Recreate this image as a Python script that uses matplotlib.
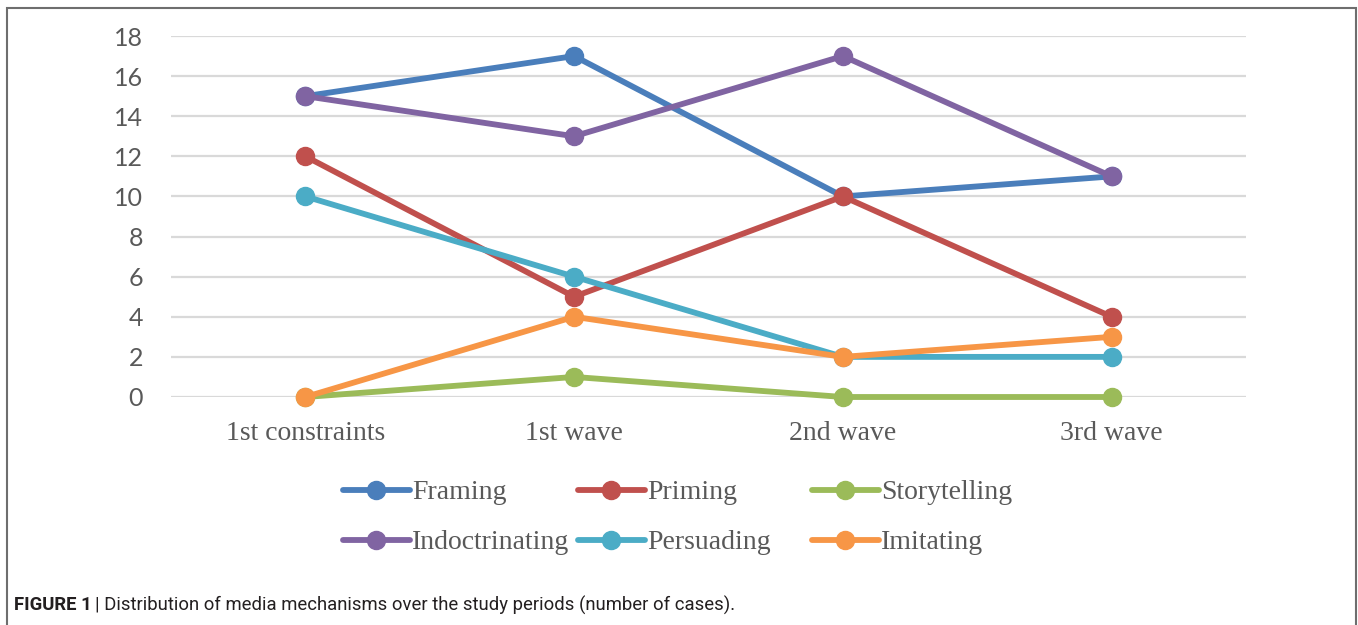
import matplotlib
matplotlib.use('Agg')
import matplotlib.pyplot as plt
from matplotlib.patches import Rectangle

periods = ['1st constraints', '1st wave', '2nd wave', '3rd wave']
framing = [15, 17, 10, 11]
priming = [12, 5, 10, 4]
storytelling = [0, 1, 0, 0]
indoctrinating = [15, 13, 17, 11]
persuading = [10, 6, 2, 2]
imitating = [0, 4, 2, 3]

series = [
    ('Framing', framing, '#4a7ebb'),
    ('Priming', priming, '#c0504d'),
    ('Storytelling', storytelling, '#9bbb59'),
    ('Indoctrinating', indoctrinating, '#8064a2'),
    ('Persuading', persuading, '#4bacc6'),
    ('Imitating', imitating, '#f79646'),
]

W, H = 1358, 625
fig = plt.figure(figsize=(W/100, H/100), dpi=100)
ax = fig.add_axes([171/W, 1-397/H, (1246-171)/W, (397-36)/H])

x = list(range(len(periods)))
lines = []
for name, vals, col in series:
    ln, = ax.plot(x, vals, color=col, lw=4.2, marker='o', ms=13,
                  solid_capstyle='round', label=name, clip_on=False, zorder=3)
    lines.append(ln)

ax.set_xlim(-0.5, 3.5)
ax.set_ylim(0, 18)
ax.set_yticks(range(0, 19, 2))
ax.set_xticks(x)
ax.set_xticklabels(periods, family='Liberation Serif', fontsize=20, color='#595959')
for lab in ax.get_yticklabels():
    lab.set_family('Lato')
    lab.set_fontsize(18)
    lab.set_color('#595959')
ax.tick_params(axis='y', length=0, pad=20)
ax.tick_params(axis='x', length=0, pad=17)
ax.yaxis.grid(True, color='#d9d9d9', lw=1.6, zorder=0)
ax.set_axisbelow(True)
for sp in ax.spines.values():
    sp.set_visible(False)

# three legend columns, two rows each
cols = [(lines[0], lines[3]), (lines[1], lines[4]), (lines[2], lines[5])]
col_x = [343, 578, 812]
for hs, cx in zip(cols, col_x):
    leg = fig.legend(handles=list(hs), loc='upper left',
                     bbox_to_anchor=(cx/W, 1-480/H), frameon=False,
                     prop={'family': 'Liberation Serif', 'size': 20},
                     handlelength=2.4, handletextpad=0.1, labelspacing=0.88,
                     borderaxespad=0, borderpad=0, numpoints=1)
    for t in leg.get_texts():
        t.set_color('#595959')

# caption: bold label followed by regular text
cap_font = ['Roboto', 'DejaVu Sans']
lbl = fig.text(14/W, 1-605/H, 'FIGURE 1', fontsize=13.3, fontweight='bold',
               family=cap_font, va='center', color='#231f20')
fig.canvas.draw()
bb = lbl.get_window_extent()
fig.text((bb.x1 + 3)/W, 1-605/H,
         '| Distribution of media mechanisms over the study periods (number of cases).',
         fontsize=13.3, family=cap_font, va='center', color='#231f20')

fig.add_artist(Rectangle((7/W, -0.1), (1356-7)/W, 1.1-8/H,
                         transform=fig.transFigure, fill=False,
                         edgecolor='#6e6e6e', lw=1.5, clip_on=False))

fig.savefig('out.png', dpi=100)
